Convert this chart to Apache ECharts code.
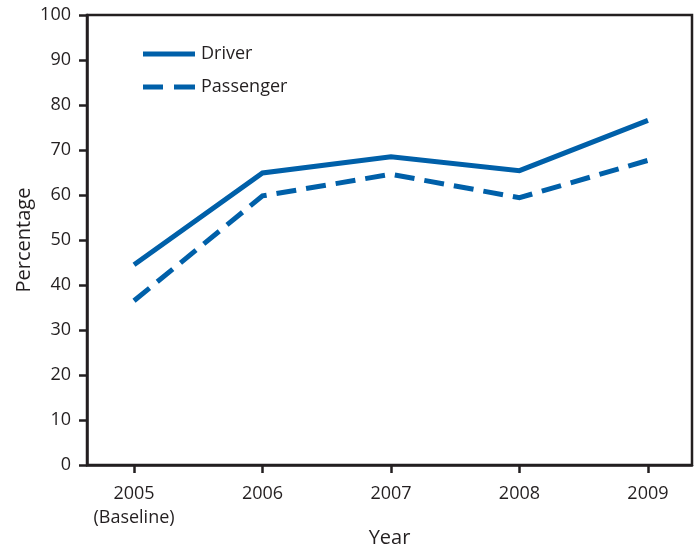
<!DOCTYPE html>
<html><head><meta charset="utf-8">
<script src="https://cdn.jsdelivr.net/npm/echarts@6/dist/echarts.min.js"></script>
<style>html,body{margin:0;padding:0;background:#fff}#c{width:699px;height:550px}</style>
</head><body><div id="c"></div>
<script>
const years = [2005, 2006, 2007, 2008, 2009];
const yearLabels = ['2005\n(Baseline)', '2006', '2007', '2008', '2009'];
const driver = [44.5, 64.9, 68.5, 65.4, 76.6];
const passenger = [36.5, 59.8, 64.6, 59.4, 67.7];
const yTicks = [0, 10, 20, 30, 40, 50, 60, 70, 80, 90, 100];

const FONT = 'Open Sans';
const INK = '#231f20';
const BLUE = '#0060a9';

const chart = echarts.init(document.getElementById('c'), null, {renderer: 'canvas'});
chart.setOption({
  animation: false,
  textStyle: {fontFamily: FONT},
  grid: {left: 87, right: 7, top: 15, bottom: 85, containLabel: false, outerBoundsMode: 'none',
         show: true, borderColor: INK, borderWidth: 2.5, backgroundColor: 'transparent'},
  legend: {
    orient: 'vertical', left: 143, top: 45, padding: 0, itemWidth: 52, itemHeight: 5, itemGap: 15,
    textStyle: {fontFamily: FONT, fontSize: 18, color: INK, padding: [0, 0, 0, 1]},
    data: [
      {name: 'Driver', icon: 'path://M0,0H52V5H0Z'},
      {name: 'Passenger', icon: 'path://M0,0H20V5H0ZM31,0H52V5H31Z'}
    ]
  },
  xAxis: {
    type: 'value', min: 2004.634, max: 2009.343,
    name: 'Year', nameLocation: 'middle', nameGap: 63, nameMoveOverlap: false,
    nameTextStyle: {fontFamily: FONT, fontSize: 20, color: INK},
    axisLine: {show: true, lineStyle: {color: INK, width: 2.5}},
    axisTick: {show: true, length: 8, lineStyle: {color: INK, width: 2.5}, customValues: years},
    axisLabel: {
      customValues: years, margin: 17, fontFamily: FONT, fontSize: 18, color: INK, lineHeight: 24,
      formatter: v => yearLabels[years.indexOf(Math.round(v))]
    },
    splitLine: {show: false}
  },
  yAxis: {
    type: 'value', min: 0, max: 100, interval: 10,
    name: 'Percentage', nameLocation: 'middle', nameGap: 53, nameMoveOverlap: false,
    nameTextStyle: {fontFamily: FONT, fontSize: 20, color: INK},
    axisLine: {show: true, lineStyle: {color: INK, width: 2.5}},
    axisTick: {show: true, length: 8, lineStyle: {color: INK, width: 2.5}},
    axisLabel: {margin: 16, fontFamily: FONT, fontSize: 18, color: INK, customValues: yTicks},
    splitLine: {show: false}
  },
  series: [
    {name: 'Driver', type: 'line', symbol: 'none', data: years.map((y, i) => [y, driver[i]]),
     lineStyle: {color: BLUE, width: 5, cap: 'butt', join: 'miter'}, itemStyle: {color: BLUE}},
    {name: 'Passenger', type: 'line', symbol: 'none', data: years.map((y, i) => [y, passenger[i]]),
     lineStyle: {color: BLUE, width: 5, type: [20, 10], cap: 'butt', join: 'miter'}, itemStyle: {color: BLUE}}
  ]
});
</script></body></html>
